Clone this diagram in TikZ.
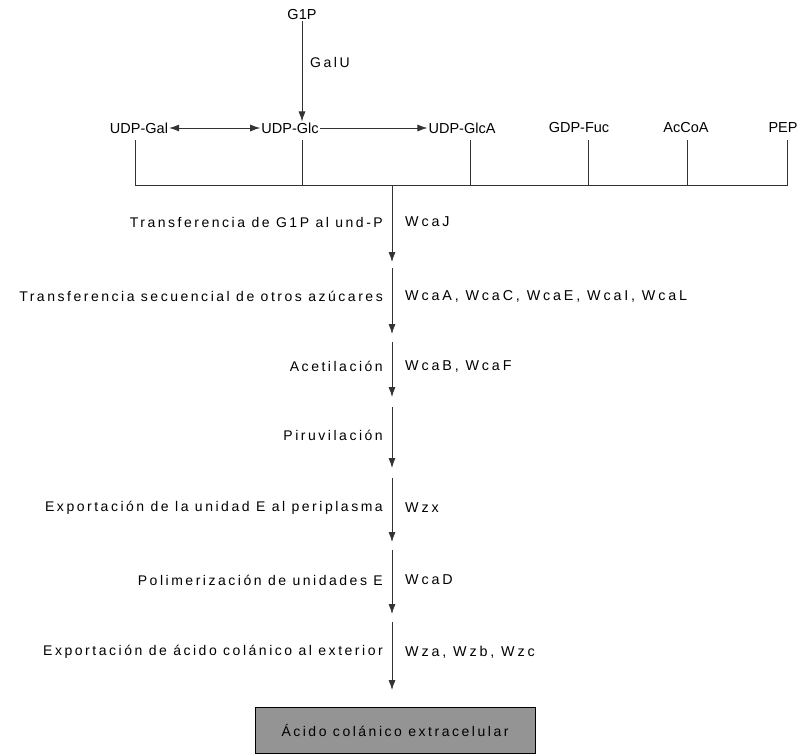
\documentclass[tikz,border=0pt]{standalone}
\usepackage{fontspec}
\setmainfont{Liberation Sans}
\newfontfamily\wide[LetterSpace=18]{Liberation Sans}
\newfontfamily\wider[LetterSpace=20]{Liberation Sans}
\usetikzlibrary{arrows.meta}
\usetikzlibrary{positioning}

\tikzset{
  met/.style={inner sep=1pt,font=\fontsize{14.5}{17}\selectfont},
  paso/.style={anchor=east,inner sep=0pt,font=\wide\fontsize{14}{16}\selectfont},
  enz/.style={anchor=west,inner sep=0pt,font=\wider\fontsize{14.3}{16}\selectfont},
  flecha/.style={draw=black!80,line width=0.8pt,-{Latex[length=10pt,width=7pt]}},
  linea/.style={draw=black!80,line width=0.8pt},
  caja/.style={draw=black,fill=black!42,minimum width=280pt,minimum height=46pt,font=\wide\fontsize{14}{16}\selectfont}
}

\begin{document}
\begin{tikzpicture}[x=1pt,y=-1pt]
\useasboundingbox (0,0) rectangle (810,755);

% precursores
\node[met] (g1p) at (302,15) {G1P};
\node[met,anchor=west,font=\wide\fontsize{14}{16}\selectfont] (galu) at (309,62) {GalU};
\node[met] (udpgal) at (139,128) {UDP-Gal};
\node[met] (udpglc) at (290,128) {UDP-Glc};
\node[met] (udpglca) at (462,128) {UDP-GlcA};
\node[met] (gdpfuc) at (579,128) {GDP-Fuc};
\node[met] (accoa) at (686,128) {AcCoA};
\node[met] (pep) at (783,128) {PEP};

\draw[flecha] (g1p.south) -- (g1p.south |- udpglc.north);
\draw[flecha,{Latex[length=10pt,width=7pt]}-{Latex[length=10pt,width=7pt]}] (udpgal.east) -- (udpglc.west);
\draw[flecha] (udpglc.east) -- (udpglca.west);

% barra comun
\coordinate (b1) at (135,185);
\coordinate (b2) at (302,185);
\coordinate (b3) at (470,185);
\coordinate (b4) at (588,185);
\coordinate (b5) at (687,185);
\coordinate (b6) at (787,185);
\draw[linea] (b1 |- 0,140) -- (b1) -- (b6) -- (b6 |- 0,140);
\draw[linea] (b2 |- 0,140) -- (b2);
\draw[linea] (b3 |- 0,140) -- (b3);
\draw[linea] (b4 |- 0,140) -- (b4);
\draw[linea] (b5 |- 0,140) -- (b5);

% ruta
\coordinate (a1) at (392,185);  \coordinate (e1) at (392,262);
\coordinate (a2) at (392,268);  \coordinate (e2) at (392,334);
\coordinate (a3) at (392,342);  \coordinate (e3) at (392,397);
\coordinate (a4) at (392,407);  \coordinate (e4) at (392,468);
\coordinate (a5) at (392,478);  \coordinate (e5) at (392,542);
\coordinate (a6) at (392,550);  \coordinate (e6) at (392,614);
\coordinate (a7) at (392,622);  \coordinate (e7) at (392,690);

\draw[flecha] (a1) -- (e1);
\draw[flecha] (a2) -- (e2);
\draw[flecha] (a3) -- (e3);
\draw[flecha] (a4) -- (e4);
\draw[flecha] (a5) -- (e5);
\draw[flecha] (a6) -- (e6);
\draw[flecha] (a7) -- (e7);

\node[paso] (p1) at (383,222) {Transferencia de G1P al und-P};
\node[paso] (p2) at (383,296) {Transferencia secuencial de otros azúcares};
\node[paso] (p3) at (383,366) {Acetilación};
\node[paso] (p4) at (383,435) {Piruvilación};
\node[paso] (p5) at (383,508) {Exportación de la unidad E al periplasma};
\node[paso] (p6) at (383,580) {Polimerización de unidades E};
\node[paso] (p7) at (383,652) {Exportación de ácido colánico al exterior};

\node[enz] (z1) at (405,222) {WcaJ};
\node[enz] (z2) at (405,296) {WcaA, WcaC, WcaE, WcaI, WcaL};
\node[enz] (z3) at (405,366) {WcaB, WcaF};
\node[enz] (z5) at (405,508) {Wzx};
\node[enz] (z6) at (405,580) {WcaD};
\node[enz] (z7) at (405,652) {Wza, Wzb, Wzc};

\node[caja] (acido) at (395,730) {Ácido colánico extracelular};

\end{tikzpicture}
\end{document}
